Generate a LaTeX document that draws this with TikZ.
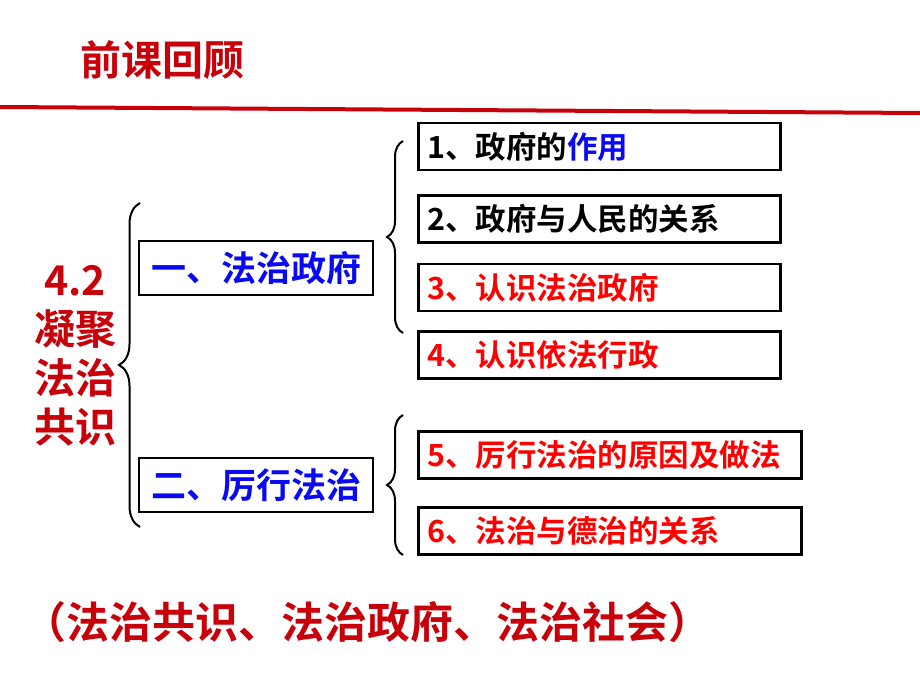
\documentclass[tikz,border=0pt]{standalone}
\usepackage{fontspec}
\setmainfont{Noto Sans CJK SC}[BoldFont={Noto Sans CJK SC Bold}]
\usepackage{tikz}
\usetikzlibrary{decorations.pathreplacing}
\definecolor{titlered}{RGB}{200,0,10}
\definecolor{itemred}{RGB}{255,0,0}
\definecolor{itemblue}{RGB}{10,10,240}

\begin{document}
\begin{tikzpicture}[x=1pt,y=-1pt]
    \tikzstyle{itembox}=[rectangle, draw, line width=2.5pt, anchor=west,
    inner xsep=9pt, minimum height=47pt, align=left,
    font=\fontsize{30.5}{34}\selectfont\bfseries]
    \tikzstyle{groupbox}=[rectangle, draw, line width=2.5pt, text=itemblue,
    minimum width=234pt, minimum height=54pt,
    font=\fontsize{35}{40}\selectfont\bfseries]
    \tikzstyle{bigbrace}=[decorate, line width=2pt,
    decoration={brace, amplitude=21pt}]
    \tikzstyle{smallbrace}=[decorate, line width=2pt,
    decoration={brace, amplitude=16pt}]
\useasboundingbox (0,0) rectangle (920,690);

\node[text=titlered, font=\fontsize{41}{44}\selectfont\bfseries] (title) at (162,60) {前课回顾};
\draw[titlered, line width=4pt] (0,107) -- (920,113);

\node[text=titlered, align=center, font=\fontsize{41}{49}\selectfont\bfseries] (topic) at (75,356) {4.2\\凝聚\\法治\\共识};

\node[groupbox] (g1) at (256,268) {一、法治政府};
\node[groupbox] (g2) at (256,485) {二、厉行法治};

\node[itembox, text width=344pt] (b1) at (417,146.5) {1、政府的{\color{itemblue}作用}};
\node[itembox, text width=344pt] (b2) at (417,219) {2、政府与人民的关系};
\node[itembox, text width=344pt, text=itemred] (b3) at (417,287.5) {3、认识法治政府};
\node[itembox, text width=344pt, text=itemred] (b4) at (417,355) {4、认识依法行政};
\node[itembox, text width=365pt, text=itemred] (b5) at (417,455) {5、厉行法治的原因及做法};
\node[itembox, text width=365pt, text=itemred] (b6) at (417,531) {6、法治与德治的关系};

\draw[bigbrace] (140,527) -- (140,203);
\draw[smallbrace] (403,333) -- (403,141);
\draw[smallbrace] (403,555) -- (403,415);

\node[text=titlered, font=\fontsize{43}{46}\selectfont\bfseries] (summary) at (367,622) {（法治共识、法治政府、法治社会）};

\end{tikzpicture}
\end{document}
